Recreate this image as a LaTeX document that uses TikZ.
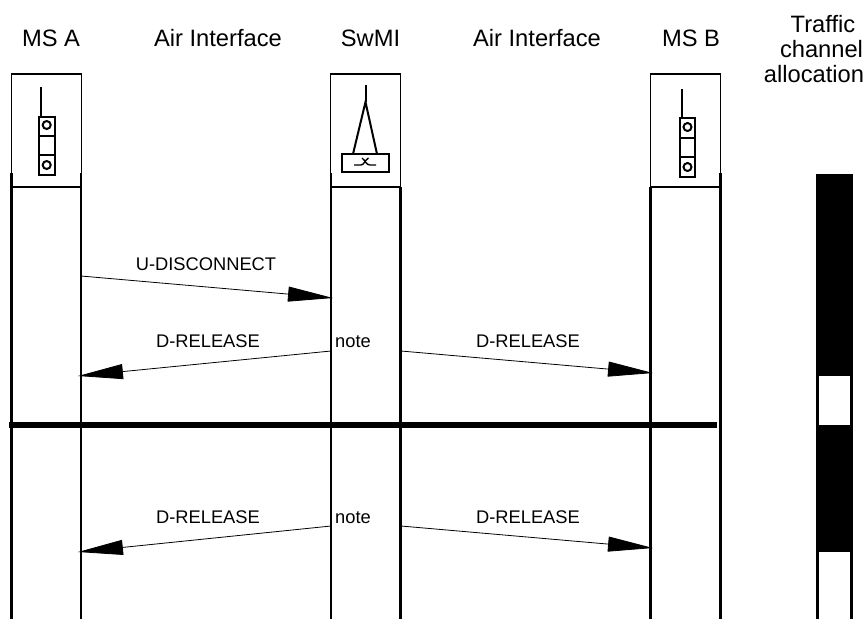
\documentclass[tikz,border=0pt]{standalone}
\usepackage{fontspec}
\setmainfont{Liberation Sans}
\usetikzlibrary{arrows.meta}
\tikzset{
 x=1pt,y=-1pt,
 head/.style={font=\fontsize{23.7}{28}\selectfont,inner sep=0pt,anchor=base},
 lab/.style={font=\fontsize{18.3}{22}\selectfont,inner sep=0pt,anchor=base},
 box/.style={draw,line width=1.1pt,fill=white,minimum width=70pt,minimum height=113pt,inner sep=0pt,outer sep=0pt},
 life/.style={line width=2.6pt},
 msg/.style={line width=.8pt,-{Triangle[length=45pt,width=15pt]}},
 icon/.style={line width=2pt},
}
\begin{document}
\begin{tikzpicture}
\useasboundingbox (0,0) rectangle (867,619);
% header labels
\node[head] (hA) at (51,46.5) {MS A};
\node[head] (hL) at (218,46.5) {Air Interface};
\node[head] (hS) at (370.5,46.5) {SwMI};
\node[head] (hR) at (537,46.5) {Air Interface};
\node[head] (hB) at (691,46.5) {MS B};
\node[head] (t1) at (823,32) {Traffic};
\node[head] (t2) at (821.5,57) {channel};
\node[head] (t3) at (814,82) {allocation};
% lifelines
\coordinate (at) at (11.5,173); \coordinate (ab) at (11.5,619);
\coordinate (bt) at (81,173);   \coordinate (bb) at (81,619);
\coordinate (ct) at (331,173);  \coordinate (cb) at (331,619);
\coordinate (dt) at (400.5,187);\coordinate (db) at (400.5,619);
\coordinate (et) at (650.5,187);\coordinate (eb) at (650.5,619);
\coordinate (ft) at (720.5,173);\coordinate (fb) at (720.5,619);
% boxes
\node[box] (boxA) at (46.2,130.5) {};
\node[box] (boxS) at (365.7,130.5) {};
\node[box] (boxB) at (685.5,130.5) {};
\draw[life] (at)--(ab); \draw[life] (bt)--(bb); \draw[life] (ct)--(cb);
\draw[life] (dt)--(db); \draw[life] (et)--(eb); \draw[life] (ft)--(fb);
% MS A icon
\draw[icon] (41,87)--(41,117);
\draw[icon] (39,117) rectangle (54.5,175);
\draw[icon] (39,136)--(54.5,136) (39,154.5)--(54.5,154.5);
\draw[icon] (46.7,125) circle (4) (46.7,165) circle (4);
% SwMI icon
\draw[icon] (365.5,85)--(365.5,102);
\draw[icon] (353,154)--(365.5,102)--(377,154);
\draw[icon] (342,154) rectangle (389,172);
\draw[line width=1.4pt] (354,165) -- (361,165) .. controls (364,165) and (365,160) .. (368.5,158);
\draw[line width=1.4pt] (362,158) .. controls (365,160) and (366,165) .. (370,165) -- (376,165);
% MS B icon
\draw[icon] (682,89)--(682,118);
\draw[icon] (679.5,118) rectangle (695,177);
\draw[icon] (679.5,138)--(695,138) (679.5,157)--(695,157);
\draw[icon] (687.5,127) circle (4) (687.5,167) circle (4);
% thick separator
\coordinate (sl) at (9,424.5); \coordinate (sr) at (717,424.5);
\draw[line width=6pt] (sl)--(sr);
% traffic bar
\fill (816,174) rectangle (853,619);
\fill[white] (819,376) rectangle (850,425);
\fill[white] (819,552) rectangle (850,619);
% messages
\coordinate (m1s) at (81,276); \coordinate (m1t) at (333,298);
\coordinate (m2s) at (331,351); \coordinate (m2t) at (78,376);
\coordinate (m3s) at (401,351); \coordinate (m3t) at (653,373);
\coordinate (m4s) at (331,526); \coordinate (m4t) at (78,552);
\coordinate (m5s) at (401,526); \coordinate (m5t) at (653,548);
\draw[msg] (m1s)--(m1t);
\draw[msg] (m2s)--(m2t);
\draw[msg] (m3s)--(m3t);
\draw[msg] (m4s)--(m4t);
\draw[msg] (m5s)--(m5t);
\node[lab] (l1) at (206,270) {U-DISCONNECT};
\node[lab] (l2) at (208,347) {D-RELEASE};
\node[lab] (l3) at (528,347) {D-RELEASE};
\node[lab] (l4) at (208,523) {D-RELEASE};
\node[lab] (l5) at (528,523) {D-RELEASE};
\node[lab] (n1) at (353,347) {note};
\node[lab] (n2) at (353,523) {note};
\end{tikzpicture}
\end{document}
